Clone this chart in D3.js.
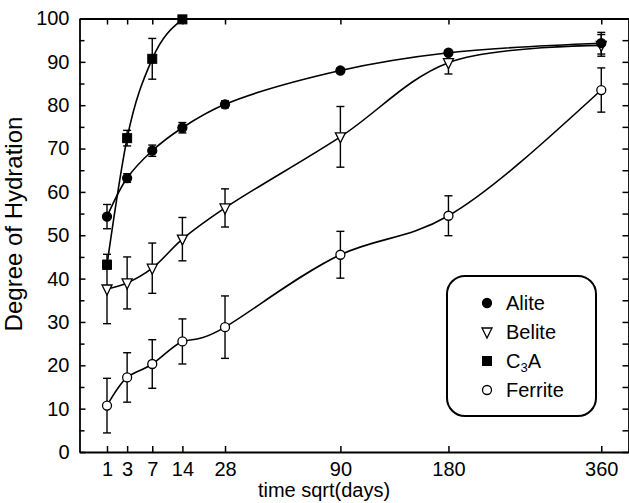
<!DOCTYPE html>
<html>
<head>
<meta charset="utf-8">
<script src="https://cdn.jsdelivr.net/npm/d3@7"></script>
<style>
  body { margin: 0; background: #fff; }
  text { font-family: "Liberation Sans", Arial, sans-serif; fill: #000; }
</style>
</head>
<body>
<svg id="chart" width="629" height="503"></svg>
<script>
// sampling times (days) - x axis is sqrt(time)
const days = [1, 3, 7, 14, 28, 90, 180, 360]
const c3aDays = [1, 3, 7, 14]

// degree of hydration (%) and error bar half widths
const aliteVals   = [54.3, 63.2, 69.5, 74.8, 80.2, 88.0, 92.1, 94.3]
const aliteErr    = [2.8, 1.0, 1.3, 1.2, 0.8, 0.5, 0.5, 2.5]
const beliteVals  = [37.6, 39.0, 42.4, 49.1, 56.3, 72.7, 89.8, 93.8]
const beliteErr   = [8.0, 6.0, 5.8, 5.0, 4.4, 7.0, 2.6, 2.5]
const c3aVals     = [43.2, 72.4, 90.7, 99.8]
const c3aErr      = [1.0, 1.8, 4.7, 0.5]
const ferriteVals = [10.7, 17.2, 20.3, 25.5, 28.8, 45.5, 54.5, 83.5]
const ferriteErr  = [6.3, 5.7, 5.6, 5.2, 7.2, 5.4, 4.6, 5.1]

const yTicks = d3.range(0, 101, 10)
const yMinor = d3.range(5, 100, 10)

function drawChart() {
  let svg = d3.select('#chart')

  let x = d3.scaleSqrt().domain([0, 400]).range([79.5, 629.5])
  let y = d3.scaleLinear().domain([0, 100]).range([452, 18.5])

  // each series gets the curve type that best follows the printed fit
  let series = [
    { name: 'Alite',   t: days,    v: aliteVals,   e: aliteErr,   shape: 'circle',   fill: '#000', curve: d3.curveCatmullRom.alpha(0.5) },
    { name: 'Belite',  t: days,    v: beliteVals,  e: beliteErr,  shape: 'triangle', fill: '#fff', curve: d3.curveCatmullRom.alpha(0.5) },
    { name: 'C3A',     t: c3aDays, v: c3aVals,     e: c3aErr,     shape: 'square',   fill: '#000', curve: d3.curveMonotoneX },
    { name: 'Ferrite', t: days,    v: ferriteVals, e: ferriteErr, shape: 'circle',   fill: '#fff', curve: d3.curveNatural }
  ]

  // axes, all ticks point inwards
  svg.append('g')
    .attr('transform', `translate(0,${y(0)})`)
    .call(d3.axisBottom(x).tickValues(days).tickSize(-6).tickSizeOuter(0).tickPadding(10))
  svg.append('g')
    .attr('transform', `translate(0,${y(100)})`)
    .call(d3.axisTop(x).tickValues(days).tickSize(-6).tickSizeOuter(0).tickFormat(''))
  svg.append('g')
    .attr('transform', `translate(${x(0)},0)`)
    .call(d3.axisLeft(y).tickValues(yTicks).tickSize(-6).tickSizeOuter(0).tickPadding(10))
  svg.append('g')
    .attr('transform', `translate(${x(0)},0)`)
    .call(d3.axisLeft(y).tickValues(yMinor).tickSize(-5).tickSizeOuter(0).tickFormat(''))
    .select('.domain').remove()
  svg.append('g')
    .attr('transform', `translate(${x(400) - 1},0)`)
    .call(d3.axisRight(y).tickValues(d3.range(0, 101, 5)).tickSize(-6).tickSizeOuter(0).tickFormat(''))

  svg.selectAll('.domain').attr('stroke', '#000').attr('stroke-width', 1.8)
  svg.selectAll('.tick line').attr('stroke', '#000').attr('stroke-width', 1.5)
  svg.selectAll('.tick text').attr('font-size', 20).attr('font-family', '"Liberation Sans", Arial, sans-serif')

  // axis titles
  svg.append('text')
    .attr('x', 324).attr('y', 497)
    .attr('text-anchor', 'middle')
    .attr('font-size', 20)
    .text('time sqrt(days)')

  svg.append('text')
    .attr('transform', 'translate(22,224) rotate(-90)')
    .attr('text-anchor', 'middle')
    .attr('font-size', 24)
    .text('Degree of Hydration')

  // fitted curves
  series.forEach(s => {
    let line = d3.line()
      .x(d => x(d[0]))
      .y(d => y(d[1]))
      .curve(s.curve)
    svg.append('path')
      .datum(s.t.map((t, i) => [t, s.v[i]]))
      .attr('d', line)
      .attr('fill', 'none')
      .attr('stroke', '#000')
      .attr('stroke-width', 1.6)
  })

  // error bars
  series.forEach(s => {
    let g = svg.append('g').attr('stroke', '#000').attr('stroke-width', 1.4)
    s.t.forEach((t, i) => {
      let cx = x(t), lo = y(s.v[i] - s.e[i]), hi = y(s.v[i] + s.e[i])
      g.append('line').attr('x1', cx).attr('x2', cx).attr('y1', lo).attr('y2', hi)
      g.append('line').attr('x1', cx - 4).attr('x2', cx + 4).attr('y1', lo).attr('y2', lo)
      g.append('line').attr('x1', cx - 4).attr('x2', cx + 4).attr('y1', hi).attr('y2', hi)
    })
  })

  // markers
  let drawMarker = (g, shape, fill, cx, cy) => {
    if (shape === 'circle') {
      g.append('circle').attr('cx', cx).attr('cy', cy).attr('r', 4.5)
        .attr('fill', fill).attr('stroke', '#000').attr('stroke-width', 1.3)
    } else if (shape === 'square') {
      g.append('rect').attr('x', cx - 4.5).attr('y', cy - 4.5).attr('width', 9).attr('height', 9)
        .attr('fill', fill).attr('stroke', '#000').attr('stroke-width', 1)
    } else {
      g.append('path')
        .attr('d', `M${cx - 5},${cy - 4}L${cx + 5},${cy - 4}L${cx},${cy + 6}Z`)
        .attr('fill', fill).attr('stroke', '#000').attr('stroke-width', 1.3)
    }
  }

  series.slice().reverse().forEach(s => {
    let g = svg.append('g')
    s.t.forEach((t, i) => drawMarker(g, s.shape, s.fill, x(t), y(s.v[i])))
  })

  // legend
  let legend = svg.append('g')
  legend.append('rect')
    .attr('x', 447).attr('y', 276).attr('width', 149).attr('height', 140).attr('rx', 18)
    .attr('fill', '#fff').attr('stroke', '#000').attr('stroke-width', 2)

  series.forEach((s, i) => {
    let ly = 303 + i * 29
    drawMarker(legend, s.shape, s.fill, 487, ly)
    let t = legend.append('text').attr('x', 506).attr('y', ly + 7).attr('font-size', 20)
    if (s.name === 'C3A') {
      t.append('tspan').text('C')
      t.append('tspan').attr('font-size', 13).attr('dy', 4).text('3')
      t.append('tspan').attr('dy', -4).text('A')
    } else {
      t.text(s.name)
    }
  })
}

drawChart()
</script>
</body>
</html>
